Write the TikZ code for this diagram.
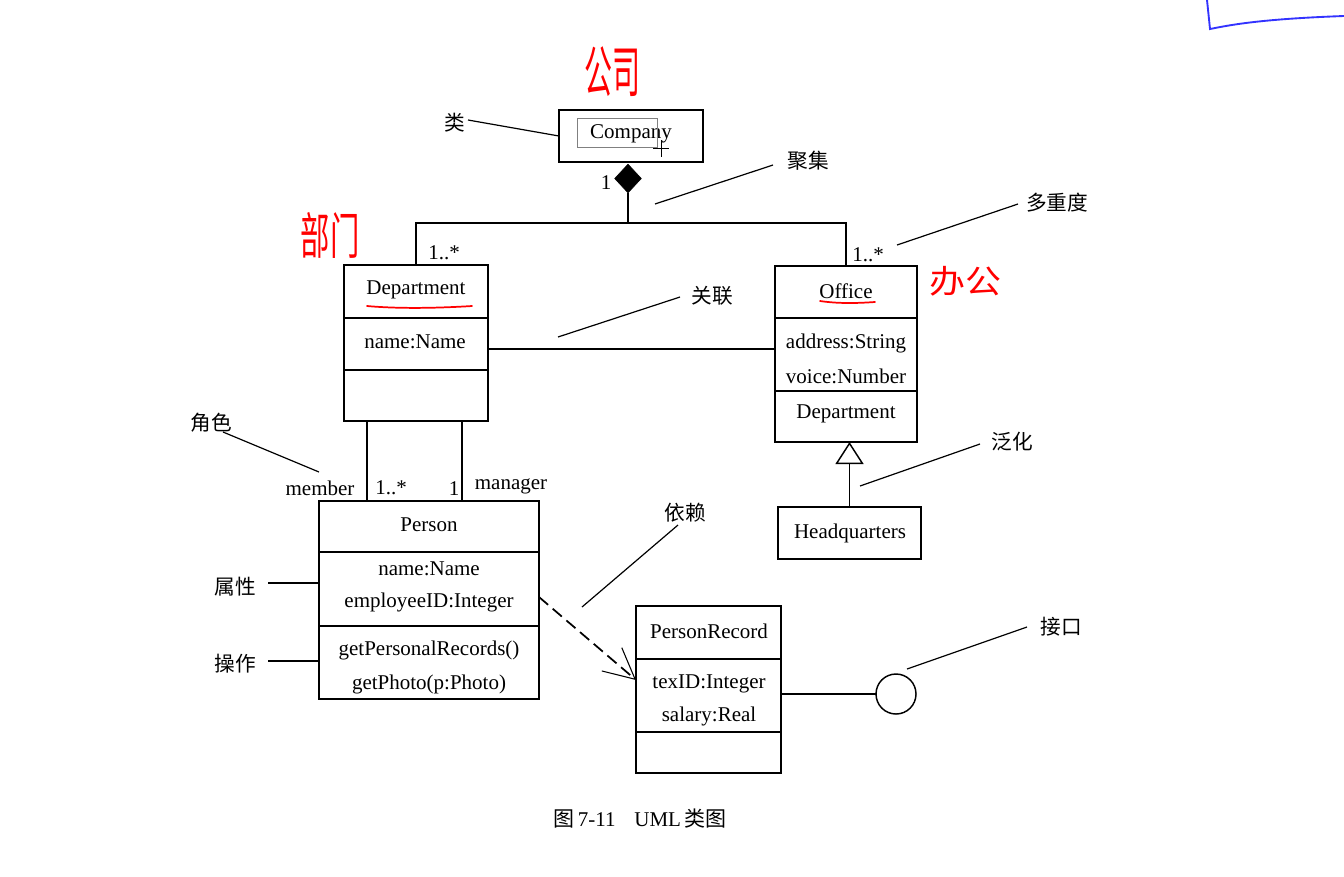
\documentclass[tikz,border=0pt]{standalone}
\usepackage{fontspec}
\setmainfont{Liberation Serif}
\newfontfamily\cjk{Noto Sans CJK SC}
\usetikzlibrary{shapes.geometric,arrows.meta}
\begin{document}
\begin{tikzpicture}[x=0.75pt,y=-0.75pt,
  every node/.style={font=\fontsize{15.75}{18}\selectfont, inner sep=0pt, outer sep=0pt},
  tx/.style={yshift=-1.6pt},
  cls/.style={draw, line width=1.1pt, anchor=north west},
  link/.style={line width=1.1pt},
  note/.style={line width=0.9pt},
  cn/.style={yshift=-1pt, font=\cjk\fontsize{15.5}{18}\selectfont},
  hand/.style={text=red, font=\cjk\fontsize{22}{24}\selectfont},
  handline/.style={red, line width=1.3pt, line cap=round},
]
\useasboundingbox[fill=white] (0,0) rectangle (1344,876);

% ---------- class boxes ----------
\node[cls, minimum width=108pt, minimum height=39pt] (company) at (559,110) {};
\node[tx] (companyT) at (631,132) {Company};
\draw[gray, line width=0.6pt] (577,118) rectangle (657,147);
\draw[line width=0.7pt] (653,148) -- (669,148) (661,140) -- (661,157);

\node[cls, minimum width=108pt, minimum height=117pt] (dept) at (344,265) {};
\draw[link] (dept.west |- 0,318) -- (dept.east |- 0,318);
\draw[link] (dept.west |- 0,370) -- (dept.east |- 0,370);
\node[tx] (deptT) at (416,288) {Department};
\node[tx] (deptA) at (415,340) {name:Name};

\node[cls, minimum width=106.5pt, minimum height=132pt] (office) at (775,266) {};
\draw[link] (office.west |- 0,318) -- (office.east |- 0,318);
\draw[link] (office.west |- 0,391) -- (office.east |- 0,391);
\node[tx] (officeT) at (846,289) {Office};
\node[tx] (officeA1) at (846,341) {address:String};
\node[tx] (officeA2) at (846,374) {voice:Number};
\node[tx] (officeO) at (846,412) {Department};

\node[cls, minimum width=107.25pt, minimum height=39pt] (hq) at (778,507) {};
\node[tx] (hqT) at (850,531) {Headquarters};

\node[cls, minimum width=165pt, minimum height=148.5pt] (person) at (319,501) {};
\draw[link] (person.west |- 0,552) -- (person.east |- 0,552);
\draw[link] (person.west |- 0,626) -- (person.east |- 0,626);
\node[tx] (personT) at (429,523) {Person};
\node[tx] (personA1) at (429,567) {name:Name};
\node[tx] (personA2) at (429,600) {employeeID:Integer};
\node[tx] (personO1) at (429,648) {getPersonalRecords()};
\node[tx] (personO2) at (429,682) {getPhoto(p:Photo)};

\node[cls, minimum width=108.75pt, minimum height=125.25pt] (prec) at (636,606) {};
\draw[link] (prec.west |- 0,659) -- (prec.east |- 0,659);
\draw[link] (prec.west |- 0,732) -- (prec.east |- 0,732);
\node[tx] (precT) at (709,629) {PersonRecord};
\node[tx] (precA1) at (709,682) {texID:Integer};
\node[tx] (precA2) at (709,714) {salary:Real};

\node[draw, circle, minimum size=30pt, line width=1.1pt] (iface) at (896,694) {};

% ---------- relationships ----------
\node[diamond, draw, fill=black, minimum width=20pt, minimum height=21.5pt] (agg) at (628,178.5) {};
\coordinate (j) at (628,223);
\draw[link] (agg.south) -- (j);
\draw[link] (dept.north) |- (j) -| (office.north);
\node[tx] (m1) at (606,180) {1};
\node[tx] (m2) at (444,251) {1..*};
\node[tx] (m3) at (868,253) {1..*};

\draw[link] (dept.east |- 0,349) -- (office.west |- 0,349);

\draw[link, -{Triangle[open, length=16.5pt, width=21pt]}] (hq.north) -- (hq.north |- office.south);

\draw[link] (dept.south -| 367,0) -- (person.north -| 367,0);
\draw[link] (dept.south -| 462,0) -- (person.north -| 462,0);
\node[tx] (rMember) at (320,486) {member};
\node[tx] (rM1) at (391,486) {1..*};
\node[tx] (rM2) at (454,486) {1};
\node[tx] (rManager) at (511,484) {manager};

\coordinate (depEnd) at (636,680);
\draw[line width=1.3pt, dash pattern=on 9pt off 4.5pt,
      -{Straight Barb[length=23pt, width=23pt, line width=0.8pt]}] (person.east |- 0,597) -- (depEnd);

\draw[link] (iface.west) -- (iface.west -| prec.east);

% ---------- annotation labels ----------
\node[cn] (nLei) at (455,121) {类};
\node[cn] (nJuji) at (808,159) {聚集};
\node[cn] (nDuo) at (1057,201) {多重度};
\node[cn] (nGuan) at (712,294) {关联};
\node[cn] (nJiao) at (211,421) {角色};
\node[cn] (nFan) at (1012,440) {泛化};
\node[cn] (nYi) at (685,511) {依赖};
\node[cn] (nShu) at (235,585) {属性};
\node[cn] (nCao) at (235,662) {操作};
\node[cn] (nJie) at (1061,625) {接口};

\coordinate (pLei) at (468,120);
\coordinate (pJuji1) at (773,165); \coordinate (pJuji2) at (655,204);
\coordinate (pDuo1) at (1018,204); \coordinate (pDuo2) at (897,245);
\coordinate (pGuan1) at (680,297); \coordinate (pGuan2) at (558,337);
\coordinate (pJiao1) at (223,432); \coordinate (pJiao2) at (319,472);
\coordinate (pFan1) at (980,444); \coordinate (pFan2) at (860,486);
\coordinate (pYi1) at (678,525); \coordinate (pYi2) at (582,607);
\coordinate (pShu) at (268,583);
\coordinate (pCao) at (268,661);
\coordinate (pJie1) at (1027,627); \coordinate (pJie2) at (907,669);

\draw[note] (pLei) -- (company.west);
\draw[note] (pJuji1) -- (pJuji2);
\draw[note] (pDuo1) -- (pDuo2);
\draw[note] (pGuan1) -- (pGuan2);
\draw[note] (pJiao1) -- (pJiao2);
\draw[note] (pFan1) -- (pFan2);
\draw[note] (pYi1) -- (pYi2);
\draw[note] (pShu) -- (person.west |- pShu);
\draw[note] (pCao) -- (person.west |- pCao);
\draw[note] (pJie1) -- (pJie2);

% ---------- caption ----------
\node[tx] (caption) at (640,816) {{\cjk 图}\,7-11\hspace{14pt}UML\,{\cjk 类图}};

% ---------- handwritten marks ----------
\node[hand] (hCompany) at (612,72) {\scalebox{1}[2]{\fontsize{21}{22}\selectfont 公司}};
\node[hand] (hDept) at (330,235) {\scalebox{1}[1.7]{\fontsize{22}{22}\selectfont 部门}};
\node[hand] (hOffice) at (965,281) {\scalebox{1}[0.9]{\fontsize{27}{27}\selectfont 办公}};
\draw[handline] (367,306) .. controls (400,309) and (440,308) .. (472,306);
\draw[handline] (820,301) .. controls (840,304) and (860,303) .. (875,302);
\draw[blue!80, line width=1.4pt] (1207,0) -- (1210,29) .. controls (1230,25) and (1260,19) .. (1344,16);
\end{tikzpicture}
\end{document}
